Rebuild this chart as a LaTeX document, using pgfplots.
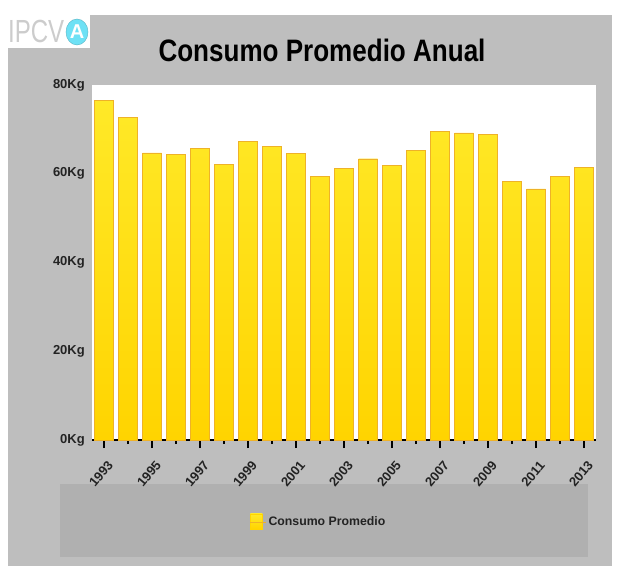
\documentclass[border=0pt]{standalone}
\usepackage{pgfplots}
\pgfplotsset{compat=1.18}
\usetikzlibrary{shapes.geometric}
\usepackage{fontspec}
\setmainfont{Liberation Sans}
\newfontfamily\titlefont{Liberation Sans}[FakeStretch=0.84]
\newfontfamily\logofont{Liberation Sans}[FakeStretch=0.75]
\definecolor{panel}{RGB}{190,190,190}
\definecolor{legbox}{RGB}{176,176,176}
\definecolor{bartop}{RGB}{255,233,40}
\definecolor{barbot}{RGB}{255,212,0}
\definecolor{baredge}{RGB}{238,178,40}
\definecolor{ticktext}{RGB}{35,35,35}
\definecolor{logocyan}{RGB}{110,225,245}
\begin{document}
\begin{tikzpicture}
\useasboundingbox (0pt,0pt) rectangle (623pt,574pt);
\fill[white] (0pt,0pt) rectangle (623pt,574pt);
\fill[panel] (8pt,8pt) rectangle (612pt,559pt);
\fill[legbox] (60pt,17pt) rectangle (588pt,90pt);
\fill[white] (7pt,526pt) rectangle (90pt,559pt);
\node[anchor=base west, font=\logofont\fontsize{32}{32}\selectfont, text=black!20, inner sep=0] at (8pt,531pt) {IPCV};
\node[ellipse, fill=logocyan, draw=logocyan!80!black, line width=0.4pt, inner sep=0pt, minimum width=22pt, minimum height=26pt, text=white, font=\bfseries\fontsize{20}{20}\selectfont] at (77pt,542pt) {A};
\node[anchor=base, font=\titlefont\bfseries\fontsize{31}{31}\selectfont, inner sep=0] at (322pt,512pt) {Consumo Promedio Anual};
\begin{axis}[
  at={(92pt,134pt)}, anchor=south west,
  scale only axis, width=504pt, height=355pt,
  xmin=-0.5, xmax=20.5, ymin=0, ymax=80,
  axis lines*=left,
  axis background/.style={fill=white},
  y axis line style={draw=none},
  x axis line style={black, line width=2pt},
  ytick={0,20,40,60,80},
  yticklabels={0Kg,20Kg,40Kg,60Kg,80Kg},
  y tick style={draw=none},
  xtick={0,2,...,20},
  xticklabels={1993,1995,1997,1999,2001,2003,2005,2007,2009,2011,2013},
  minor xtick={1,3,...,19},
  tick align=outside,
  x tick style={black, line width=1.4pt},
  major tick length=8pt, minor tick length=4pt,
  tick label style={font=\bfseries\fontsize{13}{13}\selectfont, text=ticktext},
  xticklabel style={xshift=-3pt, yshift=-26pt, rotate=50, anchor=center, inner sep=0pt},
  yticklabel style={inner sep=2pt, xshift=3pt},
  legend style={at={(axis description cs:0.45,-0.229)}, anchor=center, draw=none, fill=none,
    font=\bfseries\fontsize{12.3}{12.3}\selectfont, text=ticktext},
  legend image code/.code={\fill[barbot] (0pt,-7pt) rectangle (12pt,8pt); \path (0pt,0pt) -- (16pt,0pt);},
]
\addplot[ybar, bar width=19pt, bar shift=0pt, top color=bartop, bottom color=barbot, draw=baredge, line width=0.3pt]
coordinates {
(0,76.6) (1,72.7) (2,64.7) (3,64.4) (4,65.8) (5,62.1) (6,67.3) (7,66.2) (8,64.6) (9,59.4)
(10,61.2) (11,63.4) (12,61.9) (13,65.3) (14,69.5) (15,69.2) (16,68.9) (17,58.3) (18,56.6) (19,59.4) (20,61.5)
};
\addlegendentry{Consumo Promedio}
\end{axis}
\end{tikzpicture}
\end{document}
